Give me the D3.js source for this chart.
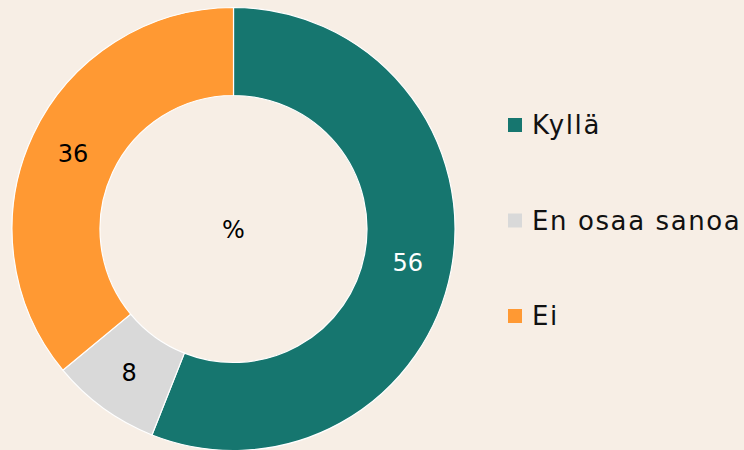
<!DOCTYPE html>
<html>
<head>
<meta charset="utf-8">
<script src="https://cdn.jsdelivr.net/npm/d3@7"></script>
<style>
  html, body { margin: 0; padding: 0; background: #f7eee5; }
  svg { display: block; font-family: "DejaVu Sans", Lato, sans-serif; }
</style>
</head>
<body>
<div id="chart"></div>
<script>
const categories = ['Kyllä', 'En osaa sanoa', 'Ei'];
const values = [56, 8, 36];
const colors = ['#16766f', '#d9d9d9', '#ff9933'];
const labelColors = ['#ffffff', '#000000', '#000000'];

const width = 744;
const height = 450;
const cx = 233.5, cy = 229;
const rOuter = 221.5, rInner = 133.5;

const svg = d3.select('#chart')
  .append('svg')
  .attr('width', width)
  .attr('height', height)
  .attr('viewBox', [0, 0, width, height])

svg.append('rect')
  .attr('width', width)
  .attr('height', height)
  .attr('fill', '#f7eee5')

const data = categories.map((c, i) => ({ name: c, value: values[i], i: i }))

const pie = d3.pie()
  .sort(null)
  .value(d => d.value)

const arc = d3.arc()
  .innerRadius(rInner)
  .outerRadius(rOuter)

const graph = svg.append('g')
  .attr('transform', `translate(${cx},${cy})`)

const arcs = pie(data)

graph.selectAll('path')
  .data(arcs)
  .enter()
  .append('path')
  .attr('d', arc)
  .attr('fill', d => colors[d.data.i])
  .attr('stroke', '#ffffff')
  .attr('stroke-width', 1.2)

graph.selectAll('text.lbl')
  .data(arcs)
  .enter()
  .append('text')
  .attr('class', 'lbl')
  .attr('transform', d => `translate(${arc.centroid(d)})`)
  .attr('text-anchor', 'middle')
  .attr('dy', '0.36em')
  .style('font-size', '24px')
  .attr('fill', d => labelColors[d.data.i])
  .text(d => d.data.value)

// keskellä %
graph.append('text')
  .attr('text-anchor', 'middle')
  .attr('dy', '0.36em')
  .style('font-size', '24px')
  .attr('fill', '#000')
  .text('%')

// legend
const legend = svg.append('g')
  .attr('transform', 'translate(508,125)')

const item = legend.selectAll('g')
  .data(data)
  .enter()
  .append('g')
  .attr('transform', (d, i) => `translate(0,${i * 95.5})`)

item.append('rect')
  .attr('x', 0)
  .attr('y', -7)
  .attr('width', 14)
  .attr('height', 14)
  .attr('fill', d => colors[d.i])

item.append('text')
  .attr('x', 24)
  .attr('dy', '0.36em')
  .style('font-size', '26px')
  .style('letter-spacing', '1.6px')
  .attr('fill', '#111')
  .text(d => d.name)
</script>
</body>
</html>
